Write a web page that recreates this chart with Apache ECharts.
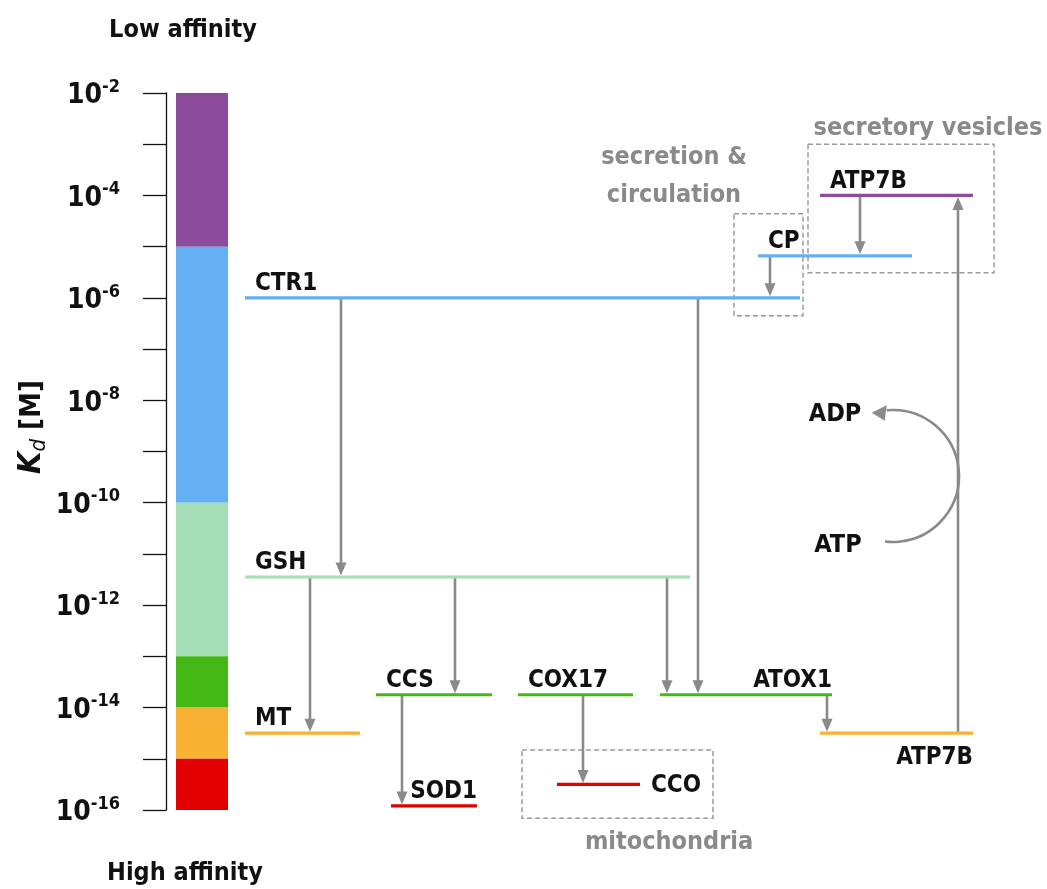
<!DOCTYPE html>
<html>
<head>
<meta charset="utf-8">
<script src="https://cdn.jsdelivr.net/npm/echarts@6/dist/echarts.min.js"></script>
<style>
  html, body { margin: 0; padding: 0; background: #fff; }
  #chart { width: 1047px; height: 889px; }
</style>
</head>
<body>
<div id="chart"></div>
<script>
const FONT = '"DejaVu Sans Condensed", "Liberation Sans", sans-serif';

// Affinity bands of the colour scale (upper and lower Kd, in M)
const bandUpper = [1e-2, 1e-5, 1e-10, 1e-13, 1e-14, 1e-15];
const bandLower = [1e-5, 1e-10, 1e-13, 1e-14, 1e-15, 1e-16];
const bandColors = ['#8c4b9b', '#65b0f3', '#a6deb7', '#43b815', '#f9b133', '#e20000'];

// Copper-binding species: name, Kd and horizontal extent along the diagram
const speciesNames = ['CTR1', 'GSH', 'MT', 'CCS', 'COX17', 'ATOX1', 'SOD1', 'CCO', 'ATP7B', 'CP', 'ATP7B'];
const speciesKd = [1e-6, 10 ** -11.45, 10 ** -14.5, 10 ** -13.75, 10 ** -13.75, 10 ** -13.75,
                   10 ** -15.92, 10 ** -15.5, 10 ** -14.5, 10 ** -5.18, 1e-4];
const speciesFrom = [245, 245, 245, 376, 518, 660, 391, 557, 820, 758, 820];
const speciesTo = [800, 690, 360, 492, 633, 832, 477, 640, 973, 912, 973];

// Copper transfer steps: donor index -> acceptor index, drawn at position x
const transferFrom = [0, 0, 1, 1, 1, 3, 4, 5, 8, 9, 10];
const transferTo = [1, 5, 2, 3, 5, 6, 7, 8, 10, 0, 9];
const transferX = [341, 698, 310, 455, 667, 402, 583, 827, 958, 770, 860];

// Compartments (dashed frames): label, x range, Kd range
const compartmentNames = ['secretion &\ncirculation', 'secretory vesicles', 'mitochondria'];
const compartmentX1 = [734, 808, 522];
const compartmentX2 = [803, 994, 713];
const compartmentTop = [10 ** -4.36, 1e-3, 10 ** -14.83];
const compartmentBottom = [10 ** -6.35, 10 ** -5.51, 10 ** -16.16];

// Y-axis tick exponents that carry a label
const labelledExponents = [-2, -4, -6, -8, -10, -12, -14, -16];

// Label placement for each species line
const labelPlacement = ['aboveLeft', 'aboveLeft', 'aboveLeft', 'aboveLeft', 'aboveLeft', 'aboveRight',
                        'aboveRight', 'right', 'belowRight', 'aboveLeft', 'aboveLeft'];
// Label anchor for compartment names: [x, Kd]
const compartmentLabelAt = [
  [674, 10 ** -3.64],
  [928, 10 ** -2.70],
  [669, 10 ** -16.64]
];

const GREY = '#8a8a8a';

function bandColorFor(kd) {
  for (let i = 0; i < bandUpper.length; i++) {
    if (kd <= bandUpper[i] && kd >= bandLower[i]) return bandColors[i];
  }
  return '#000';
}

const chart = echarts.init(document.getElementById('chart'));

const bandData = bandUpper.map((u, i) => [176, u, 228, bandLower[i]]);
const speciesData = speciesNames.map((n, i) => [speciesFrom[i], speciesKd[i], speciesTo[i], i]);
const transferData = transferX.map((x, i) => [x, speciesKd[transferFrom[i]], speciesKd[transferTo[i]]]);
const compartmentData = compartmentNames.map((n, i) =>
  [compartmentX1[i], compartmentTop[i], compartmentX2[i], compartmentBottom[i], i]);

const option = {
  animation: false,
  backgroundColor: '#fff',
  grid: { left: 166, right: 0, top: 93, bottom: 79, containLabel: false },
  xAxis: {
    type: 'value', min: 166, max: 1047, show: false
  },
  yAxis: {
    type: 'log', logBase: 10, min: 1e-16, max: 1e-2, interval: 1,
    axisLine: { show: true, lineStyle: { color: '#111', width: 1.3 } },
    axisTick: { show: true, length: 23, inside: false, lineStyle: { color: '#111', width: 1.3 } },
    splitLine: { show: false },
    axisLabel: {
      margin: 46,
      formatter: function (v) {
        const e = Math.round(Math.log10(v));
        if (labelledExponents.indexOf(e) < 0) return '';
        return '{b|10}{s|' + e + '}';
      },
      rich: {
        b: { fontFamily: FONT, fontWeight: 'bold', fontSize: 28, color: '#111', lineHeight: 30, padding: [6, 0, 0, 0] },
        s: { fontFamily: FONT, fontWeight: 'bold', fontSize: 18, color: '#111', verticalAlign: 'top', lineHeight: 18 }
      }
    }
  },
  graphic: [
    { type: 'text', x: 183, y: 30, style: { text: 'Low affinity', fill: '#111', font: 'bold 25px ' + FONT, align: 'center', verticalAlign: 'middle' } },
    { type: 'text', x: 185, y: 873, style: { text: 'High affinity', fill: '#111', font: 'bold 25px ' + FONT, align: 'center', verticalAlign: 'middle' } },
    {
      // axis title, reading bottom-to-top
      type: 'text', x: 32, y: 427, rotation: Math.PI / 2,
      style: {
        text: '{k|K}{d|d}{m| [M]}', align: 'center', verticalAlign: 'middle',
        rich: {
          k: { fontFamily: FONT, fontStyle: 'italic', fontWeight: 'bold', fontSize: 32, fill: '#111' },
          d: { fontFamily: FONT, fontStyle: 'italic', fontSize: 22, fill: '#111', verticalAlign: 'bottom', padding: [14, 0, 0, 0] },
          m: { fontFamily: FONT, fontWeight: 'bold', fontSize: 29, fill: '#111' }
        }
      }
    }
  ],
  series: [
    {
      // colour scale of affinity bands
      type: 'custom', name: 'bands', data: bandData, silent: true,
      encode: { x: [0, 2], y: [1, 3] },
      renderItem: function (params, api) {
        const p1 = api.coord([api.value(0), api.value(1)]);
        const p2 = api.coord([api.value(2), api.value(3)]);
        return {
          type: 'rect',
          shape: { x: p1[0], y: p1[1], width: p2[0] - p1[0], height: p2[1] - p1[1] },
          style: { fill: bandColors[params.dataIndex] }
        };
      },
      z: 2
    },
    {
      // dashed compartment frames and their names
      type: 'custom', name: 'compartments', data: compartmentData, silent: true,
      encode: { x: [0, 2], y: [1, 3] },
      renderItem: function (params, api) {
        const i = params.dataIndex;
        const p1 = api.coord([api.value(0), api.value(1)]);
        const p2 = api.coord([api.value(2), api.value(3)]);
        const la = compartmentLabelAt[i];
        const lp = api.coord([la[0], la[1]]);
        return {
          type: 'group',
          children: [
            {
              type: 'rect',
              shape: { x: p1[0], y: p1[1], width: p2[0] - p1[0], height: p2[1] - p1[1] },
              style: { fill: null, stroke: '#9a9a9a', lineWidth: 1.5, lineDash: [5, 3] }
            },
            {
              type: 'text', x: lp[0], y: lp[1],
              style: {
                text: compartmentNames[i], fill: GREY, font: 'bold 25px ' + FONT,
                align: 'center', verticalAlign: 'middle', lineHeight: 38
              }
            }
          ]
        };
      },
      z: 3
    },
    {
      // copper transfer arrows
      type: 'custom', name: 'transfers', data: transferData, silent: true,
      encode: { x: 0, y: [1, 2] },
      renderItem: function (params, api) {
        const a = api.coord([api.value(0), api.value(1)]);
        const b = api.coord([api.value(0), api.value(2)]);
        const dir = b[1] > a[1] ? 1 : -1;
        const tipY = b[1] - dir * 1.5;
        const head = 13, half = 5.5;
        return {
          type: 'group',
          children: [
            {
              type: 'line',
              shape: { x1: a[0], y1: a[1], x2: b[0], y2: tipY - dir * (head - 1) },
              style: { stroke: GREY, lineWidth: 2.6 }
            },
            {
              type: 'polygon',
              shape: { points: [[b[0], tipY], [b[0] - half, tipY - dir * head], [b[0] + half, tipY - dir * head]] },
              style: { fill: GREY }
            }
          ]
        };
      },
      z: 4
    },
    {
      // species levels with their names
      type: 'custom', name: 'species', data: speciesData, silent: true,
      encode: { x: [0, 2], y: 1 },
      renderItem: function (params, api) {
        const i = params.dataIndex;
        const p1 = api.coord([api.value(0), api.value(1)]);
        const p2 = api.coord([api.value(2), api.value(1)]);
        const place = labelPlacement[i];
        let tx, ty, align;
        if (place === 'aboveLeft') { tx = p1[0] + 10; ty = p1[1] - 14; align = 'left'; }
        else if (place === 'aboveRight') { tx = p2[0]; ty = p1[1] - 14; align = 'right'; }
        else if (place === 'right') { tx = p2[0] + 11; ty = p1[1] + 1; align = 'left'; }
        else { tx = p2[0]; ty = p1[1] + 25; align = 'right'; }
        return {
          type: 'group',
          children: [
            {
              type: 'line',
              shape: { x1: p1[0], y1: p1[1], x2: p2[0], y2: p2[1] },
              style: { stroke: bandColorFor(speciesKd[i]), lineWidth: 3.2 }
            },
            {
              type: 'text', x: tx, y: ty,
              style: { text: speciesNames[i], fill: '#111', font: 'bold 24px ' + FONT, align: align, verticalAlign: 'middle' }
            }
          ]
        };
      },
      z: 5
    },
    {
      // ATP hydrolysis driving the ATP7B uphill transfer
      type: 'custom', name: 'atp', data: [[893, 10 ** -9.478]], silent: true,
      encode: { x: 0, y: 1 },
      renderItem: function (params, api) {
        const c = api.coord([api.value(0), api.value(1)]);
        const r = 66;
        const a0 = -107 * Math.PI / 180, a1 = 97 * Math.PI / 180;
        const ex = c[0] + r * Math.cos(a0), ey = c[1] + r * Math.sin(a0);
        const adp = api.coord([835, 10 ** -8.268]);
        const atp = api.coord([838, 10 ** -10.826]);
        return {
          type: 'group',
          children: [
            {
              type: 'arc',
              shape: { cx: c[0], cy: c[1], r: r, startAngle: a0 + 0.2, endAngle: a1, clockwise: true },
              style: { stroke: GREY, lineWidth: 2.6, fill: null }
            },
            {
              type: 'polygon',
              shape: { points: [[ex - 2, ey], [ex + 13, ey - 7.5], [ex + 11, ey + 8]] },
              style: { fill: GREY }
            },
            { type: 'text', x: adp[0], y: adp[1], style: { text: 'ADP', fill: '#111', font: 'bold 25px ' + FONT, align: 'center', verticalAlign: 'middle' } },
            { type: 'text', x: atp[0], y: atp[1], style: { text: 'ATP', fill: '#111', font: 'bold 25px ' + FONT, align: 'center', verticalAlign: 'middle' } }
          ]
        };
      },
      z: 4
    }
  ]
};

chart.setOption(option);
</script>
</body>
</html>
